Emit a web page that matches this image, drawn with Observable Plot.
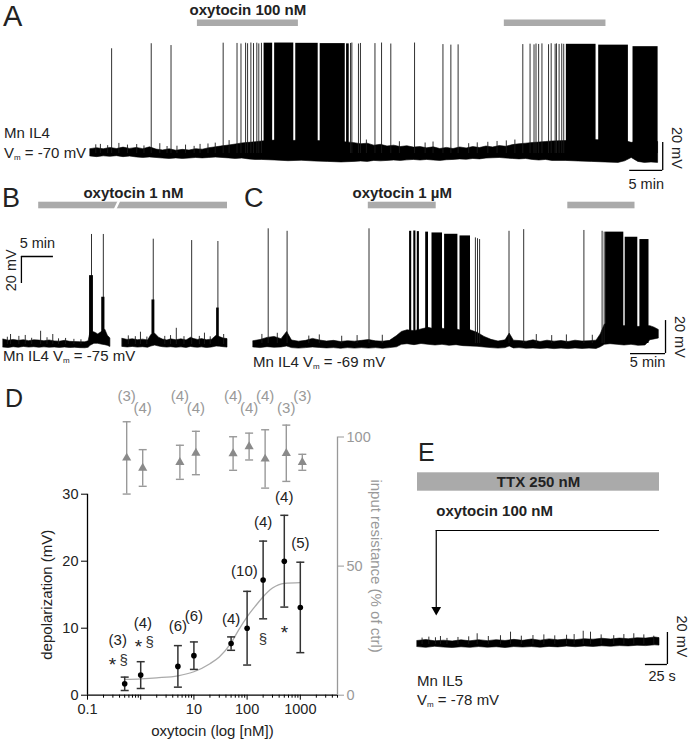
<!DOCTYPE html>
<html><head><meta charset="utf-8">
<script src="https://cdn.jsdelivr.net/npm/d3@7"></script>
<script src="https://cdn.jsdelivr.net/npm/@observablehq/plot@0.6"></script>
<style>
body{margin:0;background:#fff;}
#fig{position:relative;width:690px;height:741px;overflow:hidden;background:#fff;}
</style></head><body><div id="fig"></div>
<script>
// ---------------- DATA ----------------
// Panel D: dose-response (oxytocin nM)
const doses      = [0.5, 1, 5, 10, 50, 100, 200, 500, 1000];
const depolMean  = [1.7, 3.0, 4.3, 5.9, 7.7, 10.0, 17.2, 20.0, 13.1];
const depolErr   = [1.0, 2.0, 3.1, 2.05, 1.0, 5.5, 5.8, 6.85, 6.75];
const depolN     = ["(3)", "(4)", "(6)", "(6)", "(4)", "(10)", "(4)", "(4)", "(5)"];
const depolNX    = [0.37, 1.1, 5, 10, 50, 89, 200, 500, 1000];
const depolNY    = [8.2, 10.7, 10.3, 11.8, 11.4, 18.5, 25.8, 29.6, 22.7];
const rinMean    = [91.9, 88.0, 90.2, 93.8, 93.6, 96.3, 91.5, 93.7, 90.2];
const rinErr     = [14.0, 7.1, 6.6, 8.4, 6.5, 5.2, 11.3, 10.9, 3.1];
const rinN       = ["(3)", "(4)", "(4)", "(4)", "(4)", "(4)", "(4)", "(3)", "(3)"];
const rinNY      = [115.7, 111, 115.7, 111, 115.7, 111, 115.7, 111, 115.7];
const fitDose    = [0.5, 1, 2, 5, 10, 20, 30, 50, 70, 100, 150, 200, 300, 500, 1000];
const fitVal     = [2.35, 2.45, 2.6, 2.9, 3.5, 4.7, 5.7, 7.8, 9.8, 11.7, 13.5, 14.7, 16.0, 16.7, 16.8];
const starMarks  = [[0.296, 5.3], [0.905, 7.9], [505, 10.1]];
const sectMarks  = [[0.478, 5.3], [1.48, 7.9], [198, 8.3]];
const majorTicks = [0.1, 1, 10, 100, 1000];
const tickLabels = ["0.1", "", "10", "100", "1000"];
const minorTicks = [0.2,0.3,0.4,0.5,0.6,0.7,0.8,0.9, 2,3,4,5,6,7,8,9, 20,30,40,50,60,70,80,90, 200,300,400,500,600,700,800,900, 2000,3000,4000,5000];

// Panel A trace (t in min, mV): envelope [t, low, high]
const aEnv = [[0,-72.1,-66.9],[1,-72.6,-66.2],[2,-72.0,-67.0],[3,-72.4,-66.0],[4,-71.9,-66.8],[5,-72.6,-65.8],[6,-72.2,-66.7],[7,-72.8,-66.0],[8,-73.2,-66.9],[9,-72.8,-65.6],[10,-73.2,-67.2],[11,-73.6,-67.8],[12,-73.9,-67.0],[13,-73.5,-68.0],[14,-73.9,-67.4],[15,-73.6,-67.9],[16,-73.2,-66.9],[17,-73.5,-67.3],[18,-73.2,-66.2],[19,-72.9,-65.6],[20,-73.2,-64.9],[21,-73.5,-64.3],[22,-73.9,-63.6],[23,-73.6,-62.8],[24,-74.2,-62.4],[25,-74.6,-62.0],[26,-74.6,-61.4],[28,-75.0,-60.8],[30,-75.5,-61.2],[32,-75.2,-60.8],[34,-75.7,-61.0],[36,-76.0,-61.4],[38,-76.4,-61.7],[40,-76.0,-62.6],[41,-75.7,-63.4],[42,-76.0,-63.0],[43,-75.3,-64.4],[44,-75.6,-63.8],[45,-75.3,-65.0],[46,-75.0,-64.4],[47,-75.3,-65.4],[48,-74.9,-64.8],[49,-74.6,-65.8],[50,-75.0,-65.4],[51,-74.6,-66.3],[52,-75.0,-65.6],[53,-75.3,-66.8],[54,-74.8,-66.0],[55,-74.6,-66.8],[56,-74.2,-65.7],[57,-74.5,-66.4],[58,-73.9,-65.4],[59,-74.2,-66.1],[60,-73.6,-65.0],[61,-73.4,-65.7],[62,-73.2,-64.7],[63,-73.6,-65.2],[64,-73.9,-64.0],[65,-74.2,-63.4],[66,-73.9,-63.0],[67,-74.6,-62.5],[68,-75.0,-62.2],[69,-74.6,-61.8],[70,-75.3,-61.4],[72,-75.3,-61.1],[74,-75.7,-60.8],[76,-76.0,-60.4],[78,-76.4,-60.7],[80,-76.7,-60.4],[81,-75.6,-61.1],[82,-73.2,-62.4],[83,-76.0,-61.8],[84,-76.7,-61.3],[85,-76.4,-61.8],[86,-76.7,-61.8]];
const aSpikes = [[0.8,-63.8],[1.5,-63.5],[2.6,-64.4],[3.2,4.8],[4.3,-62.8],[5.6,-64.0],[7.0,-63.6],[8.1,-64.6],[9.2,8.4],[10.5,-63.0],[11.6,-65.0],[12.2,7.1],[13.1,-64.8],[14.4,-64.0],[15.7,-64.9],[16.6,-63.5],[17.8,-63.2],[18.9,-62.6],[20.1,8.8],[21.0,-60.8],[22.2,8.6],[22.8,8.2],[23.5,8.8],[23.8,8.4],[24.3,8.9],[24.7,8.5],[25.2,8.8],[25.5,8.3],[25.9,8.7],[39.4,8.6],[39.6,8.9],[40.6,8.2],[40.9,8.6],[41.8,-60.4],[43.1,8.5],[44.1,8.9],[45.5,8.2],[46.8,-61.6],[49.1,8.9],[50.7,-62.5],[51.9,-61.8],[53.4,7.8],[54.6,7.4],[55.7,7.6],[57.3,-63.0],[58.6,-62.4],[60.2,-62.0],[61.6,-61.4],[63.0,-61.0],[64.3,-60.4],[65.5,7.8],[66.6,8.1],[67.2,7.6],[67.5,8.2],[67.9,7.9],[68.4,8.3],[69.4,7.7],[69.8,8.4],[70.4,8.0],[70.6,8.3],[71.0,7.9],[71.4,8.2],[71.7,8.0]];
const aBursts = [[26.3,27.6,8.8],[27.9,30.8,8.9],[31.1,34.5,8.7],[34.8,38.6,8.5],[38.8,39.2,8.3],[72.1,76.6,8.0],[77.0,81.5,7.4],[82.2,86.0,6.3]];
const aDrug = [[16.2,31.5],[62.7,78.1]];

// Panel B trace (two segments)
const bEnv1 = [[0,-77.3,-71.3],[0.8,-77.6,-72.2],[1.6,-77.0,-71.6],[2.4,-77.4,-72.3],[3.2,-76.8,-71.8],[4.0,-77.3,-72.5],[4.8,-77.0,-71.9],[5.6,-77.4,-72.1],[6.4,-77.1,-72.6],[7.2,-77.4,-72.0],[8.0,-77.2,-72.7],[8.8,-77.5,-72.9],[9.6,-77.2,-72.3],[10.4,-77.6,-73.0],[11.2,-77.4,-73.2],[12.0,-77.7,-73.3],[12.8,-77.8,-73.4],[13.3,-77.4,-72.6],[13.6,-76.0,-66.0],[14.2,-74.5,-66.0],[14.8,-74.5,-67.5],[15.3,-75.0,-66.0],[15.9,-75.5,-64.0],[16.3,-76.0,-68.5],[16.7,-76.8,-70.5]];
const bEnv2 = [[18.6,-76.8,-70.8],[19.4,-77.2,-71.6],[20.2,-76.8,-71.1],[21.0,-77.3,-71.8],[21.8,-77.0,-71.4],[22.6,-77.4,-72.0],[23.1,-76.5,-68.0],[23.7,-75.8,-67.0],[24.3,-76.5,-70.0],[24.9,-77.0,-71.3],[25.6,-77.3,-72.0],[26.2,-77.0,-71.2],[27.0,-77.4,-71.8],[27.8,-77.1,-71.2],[28.6,-77.5,-72.0],[29.3,-76.8,-70.0],[29.8,-77.2,-71.0],[30.4,-77.4,-71.6],[31.0,-77.1,-71.0],[31.8,-77.6,-71.8],[32.6,-77.2,-71.4],[33.3,-76.5,-68.5],[33.8,-76.6,-69.5],[34.4,-77.0,-70.6],[35.0,-77.3,-71.0]];
const bSpikes = [[0.6,-69.6],[1.1,-67.6],[2.4,-69.0],[3.4,-68.3],[4.4,-70.4],[5.8,-65.2],[6.8,-70.0],[7.7,-67.6],[8.6,-70.8],[9.7,-70.5],[11.0,-71.2],[12.1,-71.5],[13.75,6.5],[15.6,6.5],[19.5,-68.6],[20.6,-69.2],[21.4,-65.9],[22.4,-69.5],[23.4,3.0],[25.2,-69.0],[26.1,-68.4],[27.0,-63.0],[28.2,-69.2],[29.4,2.0],[30.6,-69.0],[31.4,-66.6],[32.3,-69.3],[33.5,1.3],[34.4,-67.6]];
const bBursts = [[13.45,14.05,-24],[15.35,15.85,-40],[23.2,23.65,-42],[33.3,33.7,-48]];
const bDrug = [[5.5,35.0]];

// Panel C trace
const cEnv = [[0,-71.4,-67.6],[1,-71.8,-66.9],[2,-71.2,-65.6],[3,-71.6,-65.0],[4,-71.4,-66.4],[4.8,-70.8,-62.0],[5.5,-71.8,-67.2],[6.5,-72.1,-67.9],[7.5,-71.8,-67.4],[8.5,-71.4,-66.2],[9.5,-71.7,-67.2],[10.5,-72.0,-67.8],[11.5,-71.8,-67.4],[12.5,-72.2,-68.1],[13.5,-71.8,-67.6],[14.5,-72.1,-67.9],[15.5,-71.8,-67.4],[16.5,-72.1,-66.9],[17.5,-71.8,-67.7],[18.5,-72.2,-67.9],[19.5,-71.8,-67.4],[20.5,-71.3,-64.5],[21.2,-69.8,-62.0],[22,-69.4,-61.0],[23,-70.0,-61.5],[24,-69.3,-60.5],[25,-69.8,-59.5],[26,-70.2,-60.5],[27,-69.8,-60.0],[28,-70.4,-61.0],[29,-70.0,-60.5],[30,-70.6,-61.5],[31,-70.8,-61.0],[32,-71.0,-62.5],[33,-71.4,-65.0],[34,-71.8,-66.8],[35,-72.1,-67.8],[36,-71.8,-67.1],[36.6,-70.8,-63.0],[37.2,-72.0,-67.3],[38,-71.8,-67.5],[39,-72.2,-67.9],[40,-72.0,-67.1],[41,-72.3,-68.1],[42,-72.0,-67.3],[43,-72.4,-67.9],[44,-72.1,-67.5],[45,-72.4,-68.1],[46,-72.0,-67.3],[47,-72.3,-67.8],[48,-72.1,-67.6],[49,-72.3,-67.3],[49.6,-71.3,-63.5],[50.2,-69.8,-57.5],[51,-69.4,-57.0],[52,-69.8,-58.0],[53,-70.2,-58.5],[54,-69.8,-58.1],[55,-70.4,-59.0],[56,-70.2,-58.5],[56.7,-67.0,-58.5],[57.3,-66.5,-59.4],[57.9,-66.0,-60.8]];
const cSpikes = [[1.2,-63.5],[2.1,0.5],[3.4,-62.8],[4.8,-1.0],[7.9,-64.5],[9.4,-63.8],[12.6,-64.6],[14.8,-64.2],[16.5,0.5],[18.4,-64.0],[31.7,-5.0],[32.0,-5.5],[32.3,-6.0],[36.5,-1.0],[38.6,0.0],[40.4,-63.6],[42.6,-64.2],[44.7,-63.8],[47.2,-0.5],[48.4,-64.0],[49.8,-1.0],[50.1,-1.5]];
const cBursts = [[22.3,22.6,-1.0],[22.9,23.2,-0.8],[23.4,23.7,-1.2],[24.6,25.0,-1.5],[25.5,27.0,-2.0],[27.3,29.2,-2.8],[29.5,31.0,-3.8],[50.3,52.9,-1.5],[53.1,54.9,-4.6],[55.2,56.5,-6.0]];
const cDrug = [[16.4,26.1],[44.9,54.5]];

// Panel E trace (t in s)
const eEnv = [[0,-79.6,-75.8],[10,-80.1,-75.2],[20,-79.4,-76.0],[30,-79.9,-75.6],[40,-80.2,-76.1],[50,-79.7,-75.4],[60,-80.1,-76.0],[70,-79.6,-75.3],[80,-80.0,-75.9],[90,-79.7,-75.3],[100,-80.2,-75.8],[110,-79.6,-75.1],[120,-79.9,-75.7],[130,-79.6,-74.9],[140,-80.0,-75.6],[150,-79.5,-74.8],[160,-79.8,-75.4],[170,-79.3,-74.9],[180,-79.7,-75.3],[190,-79.2,-74.7],[200,-79.5,-75.0],[210,-79.1,-74.4],[220,-79.4,-74.9],[230,-79.0,-74.3],[240,-79.2,-74.7],[250,-78.8,-74.1],[260,-79.0,-74.3],[270,-78.5,-73.6],[275,-78.7,-74.0]];
const eSpikes = [[5.2,-74.0],[12.9,-73.4],[20.4,-73.8],[26.1,-73.0],[33.5,-74.2],[46.0,-73.6],[58.2,-73.2],[67.8,-71.3],[80.5,-73.0],[94.3,-72.5],[105.7,-70.3],[118.0,-72.8],[131.2,-72.4],[143.6,-72.0],[156.0,-72.6],[169.4,-72.2],[178.0,-71.8],[188.3,-69.7],[196.6,-70.3],[208.7,-72.0],[223,-72.5],[234.5,-71.8],[245.8,-71.3],[257.2,-72.0],[268.5,-72.8]];
const eTTX = [[0,275]];
const eOxyStart = 21.3;

// ---------------- DRAWING ----------------
const FONT = '"Liberation Sans", Arial, Helvetica, sans-serif';
const STYLE = `background:none;overflow:visible;font-family:${FONT};`;
const fig = document.getElementById("fig");
function put(node, left, top) {
  node.style.position = "absolute";
  node.style.left = left + "px";
  node.style.top = top + "px";
  fig.appendChild(node);
}
function tracePlot(c, marks) {
  const xd = [c.xRef - (c.xPx - c.left) / c.pxX, c.xRef + (c.left + c.width - c.xPx) / c.pxX];
  const yd = [c.yRef - (c.top + c.height - c.yPx) / c.pxY, c.yRef + (c.yPx - c.top) / c.pxY];
  const svg = Plot.plot({
    width: c.width, height: c.height, margin: 0,
    x: {domain: xd, axis: null}, y: {domain: yd, axis: null},
    style: STYLE, marks
  });
  put(svg, c.left, c.top);
}
function traceMarks(envs, spikes, bursts, base) {
  return [
    ...envs.map(e => Plot.area(e, {x1: d => d[0], y1: d => d[1], y2: d => d[2], fill: "#000", stroke: "#000", strokeWidth: 0.6})),
    Plot.ruleX(spikes, {x: d => d[0], y1: base, y2: d => d[1], stroke: "#1a1a1a", strokeWidth: 0.9}),
    Plot.rect(bursts, {x1: d => d[0], x2: d => d[1], y1: base, y2: d => d[2], fill: "#000"})
  ];
}
const BAR = "#aaaaaa";
const txt = (s, o) => Plot.text([s], {fontSize: 14.5, fill: "#222", ...o});
const boldTxt = (s, o) => Plot.text([s], {fontSize: 15, fontWeight: "bold", fill: "#222", ...o});

// Panel A
tracePlot({left: 90, top: 0, width: 600, height: 190, xPx: 90, xRef: 0, pxX: 6.6, yPx: 153, yRef: -70, pxY: 1.4}, [
  Plot.rect(aDrug, {x1: d => d[0], x2: d => d[1], fill: BAR, insetTop: 19.5, insetBottom: 164}),
  boldTxt("oxytocin 100 nM", {x: (aDrug[0][0] + aDrug[0][1]) / 2, frameAnchor: "top", dy: 14, lineAnchor: "bottom"}),
  ...traceMarks([aEnv], aSpikes, aBursts, -70),
  Plot.ruleX([86.7], {y1: -82.1, y2: -62.1, stroke: "#000", strokeWidth: 1.3}),
  Plot.ruleY([-82.1], {x1: 81.7, x2: 86.7, stroke: "#000", strokeWidth: 1.3}),
  txt("5 min", {x: 84.2, y: -82.1, dy: 14, lineAnchor: "middle"}),
  txt("20 mV", {x: 86.7, y: -66, dx: 14, rotate: 90, lineAnchor: "middle", textAnchor: "middle"})
]);

// Panel B
tracePlot({left: 0, top: 180, width: 230, height: 190, xPx: 3, xRef: 0, pxX: 6.4, yPx: 344, yRef: -75, pxY: 1.35}, [
  Plot.rect(bDrug, {x1: d => d[0], x2: d => d[1], fill: BAR, insetTop: 21.7, insetBottom: 161.7}),
  Plot.link([[18.05, 31.5, 17.35, 24.4]], {x1: d => d[0], y1: d => d[1], x2: d => d[2], y2: d => d[3], stroke: "#fff", strokeWidth: 2.5}),
  boldTxt("oxytocin 1 nM", {x: 20.3, frameAnchor: "top", dy: 17, lineAnchor: "bottom"}),
  ...traceMarks([bEnv1, bEnv2], bSpikes, bBursts, -75),
  Plot.ruleX([2.8], {y1: -29.8, y2: -9.8, stroke: "#000", strokeWidth: 1.3}),
  Plot.ruleY([-9.8], {x1: 2.8, x2: 7.8, stroke: "#000", strokeWidth: 1.3}),
  txt("5 min", {x: 5.3, y: -9.8, dy: -13, lineAnchor: "middle"}),
  txt("20 mV", {x: 2.8, y: -20, dx: -10, rotate: -90, lineAnchor: "middle", textAnchor: "middle"})
]);

// Panel C
tracePlot({left: 230, top: 180, width: 460, height: 190, xPx: 253, xRef: 0, pxX: 7, yPx: 343, yRef: -69, pxY: 1.65}, [
  Plot.rect(cDrug, {x1: d => d[0], x2: d => d[1], fill: BAR, insetTop: 21.7, insetBottom: 161.7}),
  boldTxt("oxytocin 1 µM", {x: (cDrug[0][0] + cDrug[0][1]) / 2, frameAnchor: "top", dy: 17, lineAnchor: "bottom"}),
  ...traceMarks([cEnv], cSpikes, cBursts, -69),
  Plot.ruleX([58.86], {y1: -75.1, y2: -55.1, stroke: "#000", strokeWidth: 1.3}),
  Plot.ruleY([-75.1], {x1: 53.86, x2: 58.86, stroke: "#000", strokeWidth: 1.3}),
  txt("5 min", {x: 56.3, y: -75.1, dy: 9, lineAnchor: "middle"}),
  txt("20 mV", {x: 58.86, y: -65, dx: 14, rotate: 90, lineAnchor: "middle", textAnchor: "middle"})
]);

// Panel E
tracePlot({left: 400, top: 460, width: 290, height: 240, xPx: 417, xRef: 0, pxX: 0.88, yPx: 644, yRef: -78, pxY: 1.6}, [
  Plot.rect(eTTX, {x1: d => d[0], x2: d => d[1], fill: BAR, insetTop: 12.3, insetBottom: 209.3}),
  boldTxt("TTX 250 nM", {x: (eTTX[0][0] + eTTX[0][1]) / 2, frameAnchor: "top", dy: 26.5, lineAnchor: "bottom"}),
  boldTxt("oxytocin 100 nM", {x: eOxyStart, frameAnchor: "top", dy: 55, lineAnchor: "bottom", textAnchor: "start"}),
  Plot.ruleY([-6.75], {x1: eOxyStart, x2: eTTX[0][1], stroke: "#000", strokeWidth: 1.2}),
  Plot.ruleX([eOxyStart], {y1: -6.75, y2: -55, stroke: "#000", strokeWidth: 1.2}),
  Plot.dot([eOxyStart], {x: d => d, y: -56.3, symbol: "triangle", r: 3.6, rotate: 180, fill: "#000", stroke: "none"}),
  ...traceMarks([eEnv], eSpikes, [], -78),
  Plot.ruleX([284], {y1: -90.5, y2: -70.5, stroke: "#000", strokeWidth: 1.3}),
  Plot.ruleY([-90.5], {x1: 259, x2: 284, stroke: "#000", strokeWidth: 1.3}),
  txt("25 s", {x: 278, y: -90.5, dy: 6, lineAnchor: "top"}),
  txt("20 mV", {x: 284, y: -73, dx: 14, rotate: 90, lineAnchor: "middle", textAnchor: "middle"})
]);

// Panel D
const rows = doses.map((d, i) => ({dose: d, m: depolMean[i], e: depolErr[i], n: depolN[i], nx: depolNX[i], ny: depolNY[i],
  r: rinMean[i], re: rinErr[i], rn: rinN[i], rny: rinNY[i]}));
const fit = fitDose.map((d, i) => ({dose: d, v: fitVal[i]}));
const capSym = {draw(ctx, size) { const w = Math.sqrt(size / Math.PI); ctx.moveTo(-w, 0); ctx.lineTo(w, 0); }};
const dFrame = {width: 400, height: 361, marginLeft: 87, marginRight: 63, marginBottom: 46.3};
const xD = {type: "log", domain: [0.1, 5000], axis: null};
const GRAY = "#999";
const GRAYD = "#8a8a8a";
const isClose = (a, b) => Math.abs(a - b) < 1e-9 * Math.max(1, b);

const dLeft = Plot.plot({
  ...dFrame, marginTop: 113.7,
  x: xD, y: {domain: [0, 30], axis: null},
  style: STYLE,
  marks: [
    Plot.axisX({ticks: minorTicks, tickSize: 3, tickFormat: () => "", stroke: "#000"}),
    Plot.axisX({ticks: majorTicks, tickSize: 5, tickPadding: 4, fontSize: 14.5, stroke: "#000", fill: "#222",
      tickFormat: v => tickLabels[majorTicks.findIndex(t => isClose(v, t))] ?? ""}),
    Plot.axisY({ticks: [0, 10, 20, 30], tickSize: 6, tickPadding: 3, fontSize: 14.5, stroke: "#000", fill: "#222", tickFormat: d => String(d)}),
    Plot.ruleY([0], {x1: 0.1, x2: 5000, stroke: "#000", strokeWidth: 1.3}),
    Plot.ruleX([0.1], {y1: 0, y2: 30, stroke: "#000", strokeWidth: 1.3}),
    Plot.line(fit, {x: "dose", y: "v", stroke: "#aaa", strokeWidth: 1.3, curve: "monotone-x"}),
    Plot.ruleX(rows, {x: "dose", y1: d => d.m - d.e, y2: d => d.m + d.e, stroke: "#333", strokeWidth: 1.5}),
    Plot.dot(rows, {x: "dose", y: d => d.m + d.e, symbol: capSym, r: 4, stroke: "#333", strokeWidth: 1.5, fill: "none"}),
    Plot.dot(rows, {x: "dose", y: d => d.m - d.e, symbol: capSym, r: 4, stroke: "#333", strokeWidth: 1.5, fill: "none"}),
    Plot.dot(rows, {x: "dose", y: "m", r: 2.8, fill: "#000", stroke: "none"}),
    Plot.text(rows, {x: "nx", y: "ny", text: "n", fontSize: 15, fill: "#222", lineAnchor: "middle"}),
    Plot.text(starMarks, {x: d => d[0], y: d => d[1], text: () => "*", fontSize: 19, fill: "#222", dy: 5, lineAnchor: "middle"}),
    Plot.text(sectMarks, {x: d => d[0], y: d => d[1], text: () => "§", fontSize: 15, fill: "#333", lineAnchor: "middle"}),
    Plot.text(["depolarization (mV)"], {frameAnchor: "left", dx: -40, rotate: -90, fontSize: 15, fill: "#222", lineAnchor: "middle", textAnchor: "middle"}),
    Plot.text(["oxytocin (log [nM])"], {frameAnchor: "bottom", dy: 36, fontSize: 15, fill: "#222", lineAnchor: "middle", textAnchor: "middle"})
  ]
});
put(dLeft, 0, 380);

const dRight = Plot.plot({
  ...dFrame, marginTop: 56.5,
  x: xD, y: {domain: [0, 100], axis: null},
  style: STYLE,
  marks: [
    Plot.ruleX([5000], {y1: 0, y2: 100, stroke: GRAY, strokeWidth: 1.3}),
    Plot.axisY({anchor: "right", ticks: [0, 50, 100], tickSize: 6, tickPadding: 3, fontSize: 14.5, stroke: GRAY, fill: GRAY, tickFormat: d => String(d)}),
    Plot.ruleX(rows, {x: "dose", y1: d => d.r - d.re, y2: d => d.r + d.re, dx: 2, stroke: GRAY, strokeWidth: 1.4}),
    Plot.dot(rows, {x: "dose", y: d => d.r + d.re, dx: 2, symbol: capSym, r: 4, stroke: GRAY, strokeWidth: 1.4, fill: "none"}),
    Plot.dot(rows, {x: "dose", y: d => d.r - d.re, dx: 2, symbol: capSym, r: 4, stroke: GRAY, strokeWidth: 1.4, fill: "none"}),
    Plot.dot(rows, {x: "dose", y: "r", dx: 2, symbol: "triangle", r: 3.4, fill: GRAYD, stroke: "none"}),
    Plot.text(rows, {x: "dose", y: "rny", dx: 2, text: "rn", fontSize: 15, fill: GRAY, lineAnchor: "middle"}),
    Plot.text(["input resistance (% of ctrl)"], {frameAnchor: "right", dx: 38, rotate: 90, fontSize: 15, fill: GRAY, lineAnchor: "middle", textAnchor: "middle"})
  ]
});
put(dRight, 0, 380);

// Panel letters and recording annotations
const ann = `
<svg width="690" height="741" style="position:absolute;left:0;top:0;pointer-events:none" font-family='${FONT}' fill="#222">
  <text x="3" y="26" font-size="29">A</text>
  <text x="4" y="138" font-size="15">Mn IL4</text>
  <text x="4" y="158" font-size="15">V<tspan font-size="8" dy="2">m</tspan><tspan dy="-2"> = -70 mV</tspan></text>
  <text x="2" y="207" font-size="27">B</text>
  <text x="3" y="361" font-size="15">Mn IL4 V<tspan font-size="8" dy="2">m</tspan><tspan dy="-2"> = -75 mV</tspan></text>
  <text x="244" y="207" font-size="27">C</text>
  <text x="253" y="367" font-size="15">Mn IL4 V<tspan font-size="8" dy="2">m</tspan><tspan dy="-2"> = -69 mV</tspan></text>
  <text x="5" y="407" font-size="25">D</text>
  <text x="418" y="461" font-size="25">E</text>
  <text x="417" y="686" font-size="15">Mn IL5</text>
  <text x="417" y="705" font-size="15">V<tspan font-size="8" dy="2">m</tspan><tspan dy="-2"> = -78 mV</tspan></text>
</svg>`;
fig.insertAdjacentHTML("beforeend", ann);
</script></body></html>
